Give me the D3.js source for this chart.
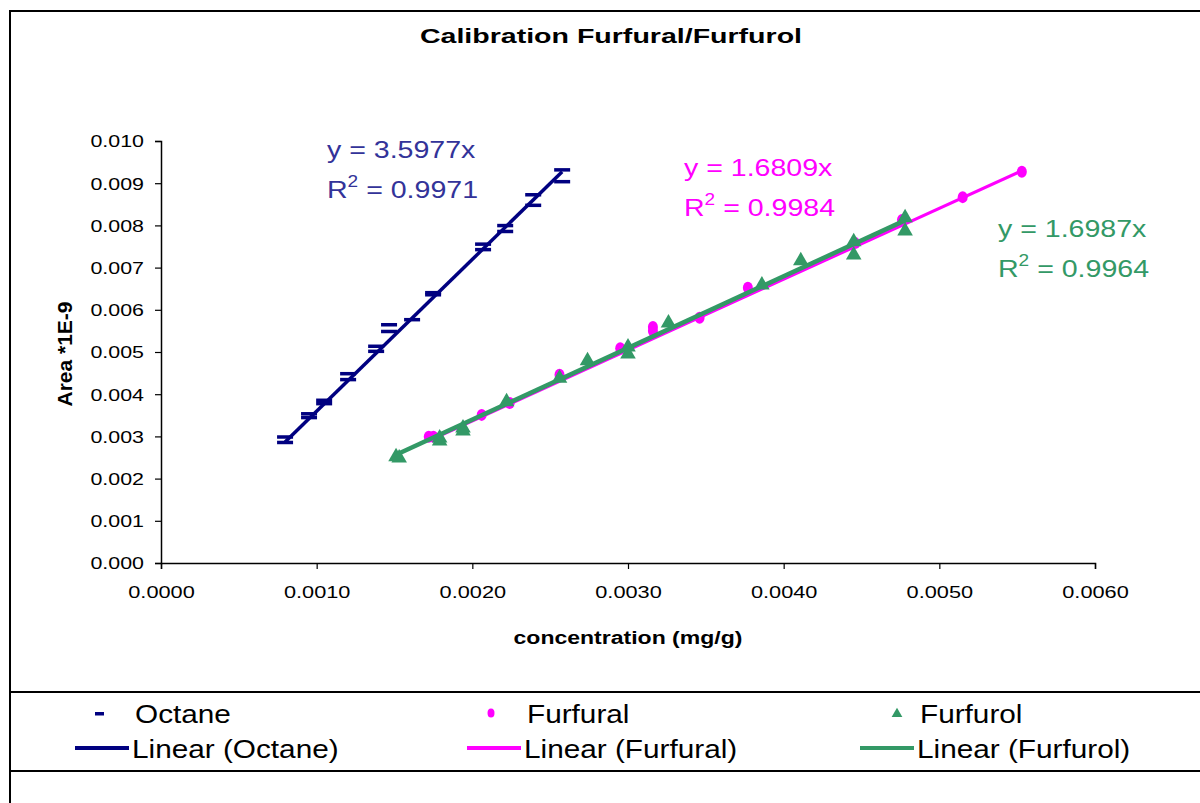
<!DOCTYPE html>
<html>
<head>
<meta charset="utf-8">
<script src="https://cdnjs.cloudflare.com/ajax/libs/d3/7.8.5/d3.min.js"></script>
<style>
	body { margin: 0; background: #fff; }
	svg { display: block; font-family: "Liberation Sans", Arial, sans-serif; }
</style>
</head>
<body>
<div class="chart"></div>
<script>
// calibration data
var octaneX = [0.000797, 0.000797, 0.000951, 0.000951, 0.001048, 0.001048, 0.001202, 0.001202,
	0.001382, 0.001382, 0.001465, 0.001465, 0.001613, 0.001748, 0.001748, 0.002069, 0.002069,
	0.002211, 0.002211, 0.002391, 0.002391, 0.002577, 0.002577];
var octaneY = [0.00298, 0.00285, 0.00353, 0.00344, 0.00385, 0.00377, 0.00448, 0.00434,
	0.00513, 0.00501, 0.00564, 0.00548, 0.00576, 0.00640, 0.00635, 0.00755, 0.00742,
	0.00799, 0.00785, 0.00872, 0.00847, 0.00931, 0.00903];

var furfuralX = [0.00172, 0.00175, 0.00206, 0.00224, 0.00256, 0.00295, 0.00316, 0.00316,
	0.00346, 0.00377, 0.00446, 0.00476, 0.00515, 0.00553];
var furfuralY = [0.00299, 0.00299, 0.00351, 0.00379, 0.00446, 0.00509, 0.00559, 0.00550,
	0.00581, 0.00652, 0.00758, 0.00813, 0.00867, 0.00927];

var furfurolX = [0.00151, 0.00153, 0.00179, 0.00179, 0.00194, 0.00194, 0.00222, 0.00256,
	0.00274, 0.00300, 0.00300, 0.00326, 0.00386, 0.00411, 0.00445, 0.00445, 0.00478, 0.00478];
var furfurolY = [0.00252, 0.00249, 0.00296, 0.00289, 0.00320, 0.00313, 0.00382, 0.00438,
	0.00479, 0.00512, 0.00495, 0.00569, 0.00659, 0.00716, 0.00761, 0.00730, 0.00818, 0.00787];

// trendline slopes (forced through origin)
var slopes = [3.5977, 1.6809, 1.6987];
var rSquared = ['0.9971', '0.9984', '0.9964'];
var seriesNames = ['Octane', 'Furfural', 'Furfurol'];

var xTicks = [0, 0.001, 0.002, 0.003, 0.004, 0.005, 0.006];
var yTicks = [0, 0.001, 0.002, 0.003, 0.004, 0.005, 0.006, 0.007, 0.008, 0.009, 0.010];

var colors = ['#000080', '#ff00ff', '#339966'];
var eqColors = ['#333399', '#ff00ff', '#339966'];

var w = 1200;
var h = 803;

// the original picture is stretched sideways, so widen text around its anchor
function widen(sel, k) {
	sel.each(function(){
		var t = d3.select(this);
		var px = +t.attr('x') || 0;
		var py = +t.attr('y') || 0;
		t.attr('transform', 'translate(' + px + ',' + py + ') scale(' + k + ',1) translate(' + (-px) + ',' + (-py) + ')');
	});
}

var svg = d3.select('.chart')
	.append('svg')
	.attr('width', w)
	.attr('height', h);

// outer chart frame (runs off right and bottom edge)
svg.append('rect')
	.attr('x', 10)
	.attr('y', 11)
	.attr('width', 1210)
	.attr('height', 820)
	.attr('fill', 'none')
	.attr('stroke', '#000')
	.attr('stroke-width', 2);

var x = d3.scaleLinear().domain([0, 0.006]).range([161, 1095]);
var y = d3.scaleLinear().domain([0, 0.010]).range([563, 141]);

// title
svg.append('text')
	.attr('x', 611)
	.attr('y', 43)
	.attr('text-anchor', 'middle')
	.attr('font-weight', 'bold')
	.attr('font-size', '21px')
	.text('Calibration Furfural/Furfurol')
	.call(widen, 1.36);

// axes
var xAxis = d3.axisBottom(x)
	.tickValues(xTicks)
	.tickSize(6)
	.tickFormat(d3.format('.4f'));
var yAxis = d3.axisLeft(y)
	.tickValues(yTicks)
	.tickSize(6)
	.tickFormat(d3.format('.3f'));

var gx = svg.append('g')
	.attr('transform', 'translate(0,563)')
	.call(xAxis);
var gy = svg.append('g')
	.attr('transform', 'translate(161,0)')
	.call(yAxis);

[gx, gy].forEach(function(g){
	g.select('.domain').attr('stroke', '#000').attr('stroke-width', 1.5);
	g.selectAll('.tick line').attr('stroke', '#000').attr('stroke-width', 1.2);
	g.selectAll('.tick text')
		.attr('fill', '#000')
		.attr('font-family', '"Liberation Sans", Arial, sans-serif')
		.attr('font-size', '17px');
});
gx.selectAll('.tick text').attr('y', 23).attr('dy', '0.71em').call(widen, 1.28);
gy.selectAll('.tick text').attr('x', -17).attr('dy', '0.35em').call(widen, 1.26);

// axis titles
svg.append('text')
	.attr('x', 628)
	.attr('y', 644)
	.attr('text-anchor', 'middle')
	.attr('font-weight', 'bold')
	.attr('font-size', '18px')
	.text('concentration (mg/g)')
	.call(widen, 1.28);

svg.append('text')
	.attr('transform', 'translate(72,354) rotate(-90)')
	.attr('text-anchor', 'middle')
	.attr('font-weight', 'bold')
	.attr('font-size', '21px')
	.text('Area *1E-9');

// series
var xs = [octaneX, furfuralX, furfurolX];
var ys = [octaneY, furfuralY, furfurolY];
var lineWidths = [3.5, 3, 4.5];

function pts(i) {
	return xs[i].map(function(d, j){ return [d, ys[i][j]]; });
}

function trend(i) {
	var ext = d3.extent(xs[i]);
	svg.append('line')
		.attr('x1', x(ext[0]))
		.attr('y1', y(ext[0] * slopes[i]))
		.attr('x2', x(ext[1]))
		.attr('y2', y(ext[1] * slopes[i]))
		.attr('stroke', colors[i])
		.attr('stroke-width', lineWidths[i]);
}

trend(0);
trend(1);

// octane dashes
svg.selectAll('.oct')
	.data(pts(0))
	.enter()
	.append('rect')
	.attr('class', 'oct')
	.attr('x', function(d){ return x(d[0]) - 8; })
	.attr('y', function(d){ return y(d[1]) - 2; })
	.attr('width', 16)
	.attr('height', 3.5)
	.attr('fill', colors[0]);

// furfural circles
svg.selectAll('.furfural')
	.data(pts(1))
	.enter()
	.append('ellipse')
	.attr('class', 'furfural')
	.attr('cx', function(d){ return x(d[0]); })
	.attr('cy', function(d){ return y(d[1]); })
	.attr('rx', 5)
	.attr('ry', 6)
	.attr('fill', colors[1]);

// furfurol trend sits over the circles
trend(2);

// furfurol triangles
svg.selectAll('.furfurol')
	.data(pts(2))
	.enter()
	.append('path')
	.attr('class', 'furfurol')
	.attr('transform', function(d){ return 'translate(' + x(d[0]) + ',' + y(d[1]) + ')'; })
	.attr('d', d3.symbol().type(d3.symbolTriangle).size(105))
	.attr('fill', colors[2]);

// equation labels
var eqPos = [[327, 158], [684, 176], [998, 237]];
eqPos.forEach(function(p, i){
	var g = svg.append('g')
		.attr('fill', eqColors[i])
		.attr('font-size', '24px');
	g.append('text')
		.attr('x', p[0])
		.attr('y', p[1])
		.text('y = ' + slopes[i] + 'x')
		.call(widen, 1.19);
	var t = g.append('text')
		.attr('x', p[0])
		.attr('y', p[1] + 40);
	t.append('tspan').text('R');
	t.append('tspan').attr('font-size', '16px').attr('dy', -11).text('2');
	t.append('tspan').attr('dy', 11).text(' = ' + rSquared[i]);
	t.call(widen, 1.19);
});

// legend
svg.append('rect')
	.attr('x', 10)
	.attr('y', 692)
	.attr('width', 1200)
	.attr('height', 79)
	.attr('fill', '#fff')
	.attr('stroke', '#000')
	.attr('stroke-width', 2);

var legX = [75, 467, 860];
legX.forEach(function(lx, i){
	var g = svg.append('g')
		.attr('font-size', '25px')
		.attr('fill', '#000');
	// marker
	if (i === 0) {
		g.append('rect').attr('x', lx + 20).attr('y', 712).attr('width', 9).attr('height', 3.5).attr('fill', colors[0]);
	} else if (i === 1) {
		g.append('ellipse').attr('cx', lx + 24).attr('cy', 713).attr('rx', 3.5).attr('ry', 4.5).attr('fill', colors[1]);
	} else {
		g.append('path')
			.attr('transform', 'translate(' + (lx + 37) + ',714)')
			.attr('d', d3.symbol().type(d3.symbolTriangle).size(50))
			.attr('fill', colors[2]);
	}
	g.append('text')
		.attr('x', lx + 60)
		.attr('y', 723)
		.text(seriesNames[i])
		.call(widen, 1.19);
	g.append('line')
		.attr('x1', lx).attr('x2', lx + 54)
		.attr('y1', 748).attr('y2', 748)
		.attr('stroke', colors[i])
		.attr('stroke-width', 4);
	g.append('text')
		.attr('x', lx + 57)
		.attr('y', 758)
		.text('Linear (' + seriesNames[i] + ')')
		.call(widen, 1.19);
});
</script>
</body>
</html>
